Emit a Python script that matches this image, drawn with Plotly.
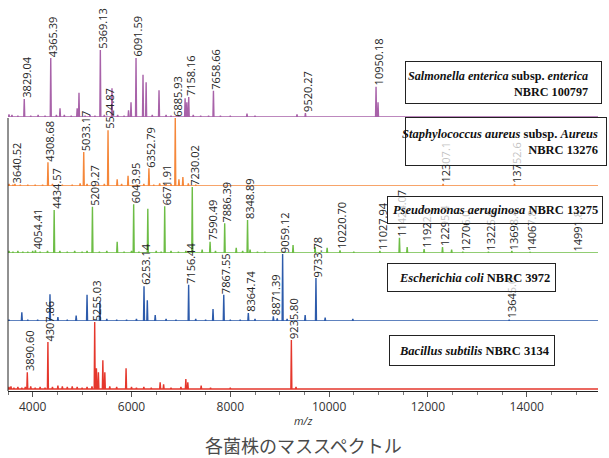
import plotly.graph_objects as go

# ---------------- data ----------------
MZ_MIN, MZ_MAX = 3500, 15443

# Salmonella enterica
sal_lab_mz = [3829.04, 4365.39, 5369.13, 6091.59, 7158.16, 7658.66, 9520.27, 10950.18]
sal_lab_int = [27, 88, 100, 88, 30, 39, 6, 45]
sal_lab_txt = ["3829.04", "4365.39", "5369.13", "6091.59", "7158.16", "7658.66", "9520.27", "10950.18"]
sal_oth_mz = [3520, 3580, 3700, 3960, 4110, 4250, 4480, 4553, 4640, 4780,
              4900, 4937, 5060, 5160, 5260, 5450, 5605, 5720, 5850, 5940,
              5990, 6233, 6296, 6420, 6557, 6700, 6800, 7085, 7120, 7250,
              7400, 7560, 7800, 8000, 8338, 8500, 8800, 9100, 9350, 10990]
sal_oth_int = [4, 3, 2, 2, 3, 2, 3, 13, 3, 2,
               13, 36, 2, 3, 2, 3, 43, 3, 2, 10,
               22, 63, 52, 3, 40, 3, 2, 28, 22, 3,
               2, 2, 2, 2, 5, 2, 1, 1, 4, 22]

# Staphylococcus aureus
sta_lab_mz = [3640.52, 4308.68, 5033.17, 5524.87, 6352.79, 6885.93, 12307.1, 13752.6]
sta_lab_int = [3, 35, 50, 82, 26, 100, 3, 3]
sta_lab_txt = ["3640.52", "4308.68", "5033.17", "5524.87", "6352.79", "6885.93", "12307.1", "13752.6"]
sta_oth_mz = [3520, 3600, 3750, 3900, 4050, 4200, 4400, 4600, 4800, 4960,
              5100, 5300, 5450, 5710, 5800, 5930, 6100, 6250, 6450, 6570,
              6700, 6800, 6960, 7040, 7150, 7300]
sta_oth_int = [3, 2, 2, 2, 2, 2, 3, 2, 2, 4,
               3, 2, 3, 10, 3, 15, 2, 3, 2, 4,
               3, 3, 10, 13, 4, 2]

# Pseudomonas aeruginosa
pse_lab_mz = [4054.41, 4434.57, 5209.27, 6043.95, 6671.91, 7230.02, 7590.49, 7886.39,
              8348.89, 10220.70, 11027.94, 11424.07, 11922.7, 12295.4, 12706.0,
              13225.6, 13698.4, 14067.8, 14991.8]
pse_lab_int = [4, 65, 70, 74, 71, 100, 17, 45, 50, 4, 3, 23, 6, 9, 2, 2, 3, 1, 1]
pse_lab_txt = ["4054.41", "4434.57", "5209.27", "6043.95", "6671.91", "7230.02", "7590.49",
               "7886.39", "8348.89", "10220.70", "11027.94", "11424.07", "11922.7",
               "12295.4", "12706.0", "13225.6", "13698.4", "14067.8", "14991.8"]
pse_oth_mz = [3520, 3600, 3700, 3800, 3900, 4000, 4150, 4300, 4550, 4700,
              4850, 5000, 5100, 5350, 5500, 5710, 5850, 6000, 6150, 6330,
              6500, 6600, 6800, 6950, 7100, 7430, 7700, 8120, 8250, 8400,
              8550, 8700, 9270, 9716, 9960, 10500, 11580, 12480]
pse_oth_int = [3, 2, 3, 2, 2, 3, 2, 3, 3, 2,
               3, 2, 3, 2, 3, 17, 2, 3, 2, 67,
               3, 2, 3, 2, 3, 5, 3, 8, 3, 5,
               2, 2, 12, 9, 8, 2, 9, 5]

# Escherichia coli
eco_lab_mz = [6253.14, 7156.44, 7867.55, 8364.74, 8871.39, 9059.12, 9733.78, 13645.0]
eco_lab_int = [52, 54, 39, 12, 7, 100, 64, 2]
eco_lab_txt = ["6253.14", "7156.44", "7867.55", "8364.74", "8871.39", "9059.12", "9733.78", "13645.0"]
eco_oth_mz = [3520, 3780, 3900, 4100, 4350, 4510, 4700, 4880, 5100, 5360,
              5500, 5700, 5900, 6100, 6320, 6480, 6700, 6900, 7300, 7500,
              7650, 8000, 8200, 8500, 8950, 9150, 9515, 9920, 10480, 11000]
eco_oth_int = [2, 13, 2, 2, 40, 6, 2, 8, 39, 30,
               3, 2, 2, 3, 31, 9, 3, 2, 3, 2,
               18, 2, 2, 3, 4, 3, 9, 5, 3, 1]

# Bacillus subtilis
bac_lab_mz = [3890.60, 4307.86, 5255.03, 9235.80]
bac_lab_int = [25, 70, 100, 73]
bac_lab_txt = ["3890.60", "4307.86", "5255.03", "9235.80"]
bac_oth_mz = [3520, 3560, 3620, 3700, 3780, 3850, 3960, 4050, 4150, 4250,
              4400, 4510, 4600, 4700, 4800, 4900, 5000, 5100, 5200, 5290,
              5330, 5420, 5460, 5560, 5700, 5890, 6000, 6100, 6250, 6400,
              6580, 6650, 6800, 7000, 7100, 7140, 7410, 7600, 8000, 8500,
              9330, 9600, 10500, 11100]
bac_oth_int = [3, 4, 2, 3, 2, 3, 4, 2, 3, 2,
               3, 5, 4, 3, 4, 3, 2, 3, 4, 31,
               25, 43, 25, 4, 3, 31, 3, 2, 3, 2,
               10, 7, 2, 3, 15, 10, 5, 2, 2, 1,
               3, 1, 1, 1]

x_tick_vals = [4000, 6000, 8000, 10000, 12000, 14000]
x_tick_text = ["4000", "6000", "8000", "10000", "12000", "14000"]

strain_names = [
    "<b><i>Salmonella enterica</i> subsp. <i>enterica</i><br>NBRC 100797</b>",
    "<b><i>Staphylococcus aureus</i> subsp. <i>Aureus</i><br>NBRC 13276</b>",
    "<b><i>Pseudomonas aeruginosa</i> NBRC 13275</b>",
    "<b><i>Escherichia coli</i> NBRC 3972</b>",
    "<b><i>Bacillus subtilis</i> NBRC 3134</b>",
]
colors = ["#a862a9", "#f5873a", "#6dbd45", "#2d5bab", "#e5372c"]
title_text = "各菌株のマススペクトル"

# ---------------- layout helpers ----------------
PL, PR, PT, PB = 8, 598, 49, 391   # plot area in pixels
def fx(p):
    return (p - PL) / (PR - PL)
def fy(p):
    return (PB - p) / (PB - PT)

panels = [
    dict(ax="y5", base=117, top=50),   # Salmonella
    dict(ax="y4", base=186, top=118),  # Staph
    dict(ax="y3", base=253, top=187),  # Pseudomonas
    dict(ax="y2", base=321, top=254),  # E. coli
    dict(ax="y", base=389, top=322),   # Bacillus
]
datasets = [
    (sal_lab_mz, sal_lab_int, sal_lab_txt, sal_oth_mz, sal_oth_int),
    (sta_lab_mz, sta_lab_int, sta_lab_txt, sta_oth_mz, sta_oth_int),
    (pse_lab_mz, pse_lab_int, pse_lab_txt, pse_oth_mz, pse_oth_int),
    (eco_lab_mz, eco_lab_int, eco_lab_txt, eco_oth_mz, eco_oth_int),
    (bac_lab_mz, bac_lab_int, bac_lab_txt, bac_oth_mz, bac_oth_int),
]

def spectrum(mzs, ints, half=10):
    pts = sorted(zip(mzs, ints))
    xs, ys = [MZ_MIN], [0]
    for m, h in pts:
        xs += [m - half, m, m + half]
        ys += [0, h, 0]
    xs.append(MZ_MAX)
    ys.append(0)
    return xs, ys

fig = go.Figure()
layout_axes = {}
label_anns = []
for pn, ds, col in zip(panels, datasets, colors):
    lab_mz, lab_int, lab_txt, oth_mz, oth_int = ds
    xs, ys = spectrum(list(lab_mz) + list(oth_mz), list(lab_int) + list(oth_int))
    fig.add_trace(go.Scatter(x=xs, y=ys, mode="lines", xaxis="x", yaxis=pn["ax"],
                             line=dict(color=col, width=1.4), hoverinfo="skip",
                             showlegend=False))
    if pn["ax"] == "y":
        d0 = 0.0
        rng = [-100 * (PB - pn["base"]) / (pn["base"] - pn["top"]), 100]
    else:
        d0 = fy(pn["base"])
        rng = [0, 100]
    d1 = fy(pn["top"])
    key = "yaxis" if pn["ax"] == "y" else "yaxis" + pn["ax"][1:]
    layout_axes[key] = dict(domain=[d0, d1], range=rng, visible=False,
                            anchor="x", fixedrange=True)
    for m, h, t in zip(lab_mz, lab_int, lab_txt):
        label_anns.append(dict(x=m, y=h, xref="x", yref=pn["ax"], text=t,
                               textangle=-90, showarrow=False, xanchor="center",
                               yanchor="bottom", xshift=2, yshift=-1,
                               font=dict(family="Open Sans", size=11, color="#262626")))

boxes = [
    dict(l=405, r=602, t=61, b=104),
    dict(l=405, r=607, t=117, b=166),
    dict(l=387, r=603, t=196, b=224),
    dict(l=387, r=556, t=263, b=292),
    dict(l=389, r=555, t=335, b=366),
]
box_anns = []
for bx in boxes:
    box_anns.append(dict(x=fx(bx["l"]), y=fy(bx["t"]), xref="paper", yref="paper",
                         xanchor="left", yanchor="top", text=" ", showarrow=False,
                         width=bx["r"] - bx["l"] - 2, height=bx["b"] - bx["t"] - 2,
                         bgcolor="rgba(255,255,255,0.72)", bordercolor="#222",
                         borderwidth=1, borderpad=0))

txt_pos = [
    dict(x=590, y=84, anchor="right", size=12.2),
    dict(x=600, y=142, anchor="right", size=12.5),
    dict(x=495, y=210, anchor="center", size=12.5),
    dict(x=474, y=278, anchor="center", size=12.5),
    dict(x=474, y=351, anchor="center", size=12.5),
]
txt_anns = []
for name, tp in zip(strain_names, txt_pos):
    txt_anns.append(dict(x=fx(tp["x"]), y=fy(tp["y"]), xref="paper", yref="paper",
                         xanchor=tp["anchor"], yanchor="middle", text=name,
                         align="right", showarrow=False,
                         font=dict(family="Liberation Serif", size=tp["size"], color="#111")))

other_anns = [
    dict(x=fx(303), y=fy(420), xref="paper", yref="paper", text="<i>m/z</i>",
         showarrow=False, xanchor="center", yanchor="middle",
         font=dict(family="Open Sans", size=11, color="#333")),
    dict(x=fx(303), y=fy(445), xref="paper", yref="paper", text=title_text,
         showarrow=False, xanchor="center", yanchor="middle",
         font=dict(family="Noto Sans CJK JP", size=18, color="#4a4a4a")),
]

fig.update_layout(
    width=609, height=458,
    margin=dict(l=PL, r=609 - PR, t=PT, b=458 - PB),
    paper_bgcolor="white", plot_bgcolor="rgba(0,0,0,0)",
    showlegend=False,
    xaxis=dict(range=[MZ_MIN, MZ_MAX], domain=[0, 1], anchor="y",
               showline=True, linecolor="#222", linewidth=1,
               ticks="outside", ticklen=5, tickcolor="#555",
               tickmode="array", tickvals=x_tick_vals, ticktext=x_tick_text,
               minor=dict(ticks="outside", ticklen=3, tickmode="linear", tick0=0,
                          dtick=500, tickcolor="#777", showgrid=False),
               showgrid=False, zeroline=False, fixedrange=True,
               tickfont=dict(family="Open Sans", size=12, color="#333")),
    annotations=label_anns + box_anns + txt_anns + other_anns,
    shapes=[dict(type="line", xref="paper", yref="paper", x0=0, x1=0,
                 y0=0, y1=fy(118), line=dict(color="#222", width=1))],
    **layout_axes,
)

fig.write_html("out.html")
